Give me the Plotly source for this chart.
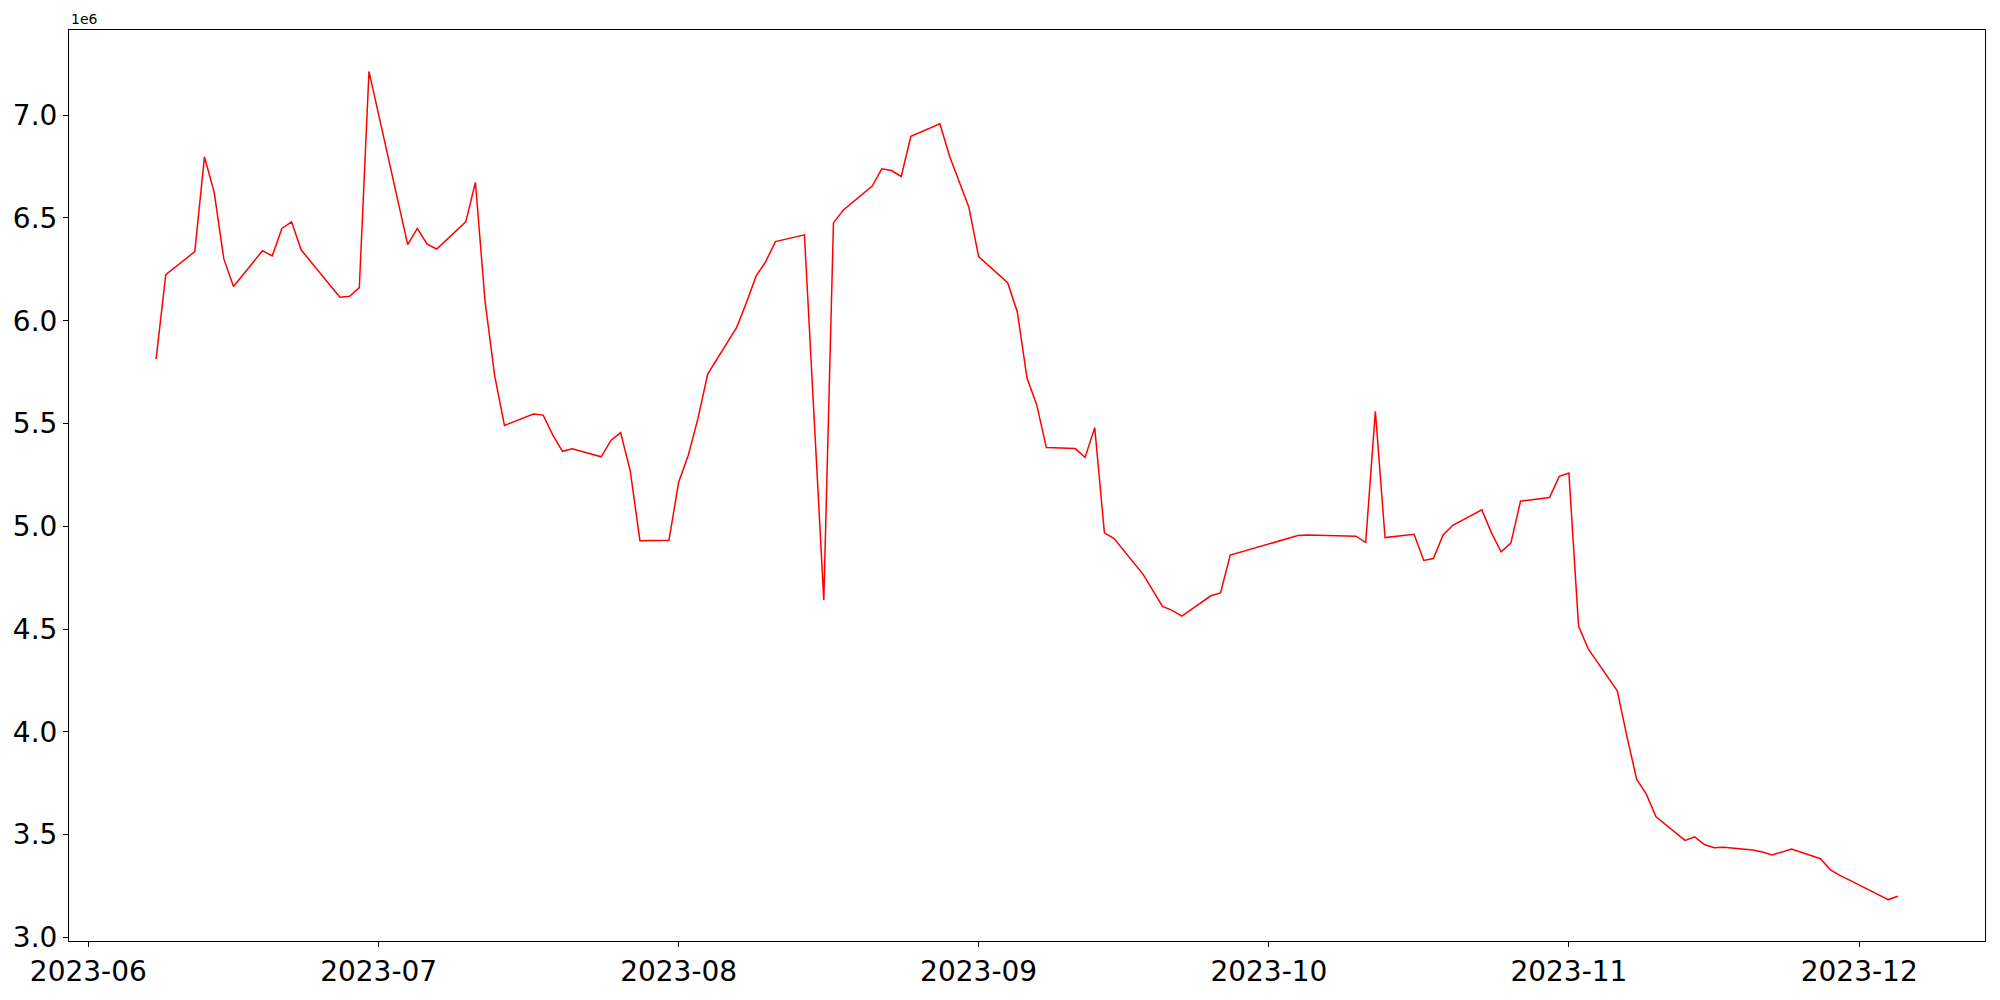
import plotly.graph_objects as go

dates = [
    "2023-06-08", "2023-06-09", "2023-06-12", "2023-06-13", "2023-06-14", "2023-06-15", "2023-06-16",
    "2023-06-19", "2023-06-20", "2023-06-21", "2023-06-22", "2023-06-23",
    "2023-06-26", "2023-06-27", "2023-06-28", "2023-06-29", "2023-06-30",
    "2023-07-04", "2023-07-05", "2023-07-06", "2023-07-07",
    "2023-07-10", "2023-07-11", "2023-07-12", "2023-07-13", "2023-07-14",
    "2023-07-17", "2023-07-18", "2023-07-19", "2023-07-20", "2023-07-21",
    "2023-07-24", "2023-07-25", "2023-07-26", "2023-07-27", "2023-07-28",
    "2023-07-31", "2023-08-01", "2023-08-02", "2023-08-03", "2023-08-04",
    "2023-08-07", "2023-08-08", "2023-08-09", "2023-08-10", "2023-08-11",
    "2023-08-14", "2023-08-16", "2023-08-17", "2023-08-18",
    "2023-08-21", "2023-08-22", "2023-08-23", "2023-08-24", "2023-08-25",
    "2023-08-28", "2023-08-29", "2023-08-30", "2023-08-31", "2023-09-01",
    "2023-09-04", "2023-09-05", "2023-09-06", "2023-09-07", "2023-09-08",
    "2023-09-11", "2023-09-12", "2023-09-13", "2023-09-14", "2023-09-15",
    "2023-09-18", "2023-09-20", "2023-09-21", "2023-09-22",
    "2023-09-25", "2023-09-26", "2023-09-27",
    "2023-10-04", "2023-10-05", "2023-10-10", "2023-10-11", "2023-10-12", "2023-10-13",
    "2023-10-16", "2023-10-17", "2023-10-18", "2023-10-19", "2023-10-20",
    "2023-10-23", "2023-10-24", "2023-10-25", "2023-10-26", "2023-10-27",
    "2023-10-30", "2023-10-31", "2023-11-01", "2023-11-02", "2023-11-03",
    "2023-11-06", "2023-11-07", "2023-11-08", "2023-11-09", "2023-11-10",
    "2023-11-13", "2023-11-14", "2023-11-15", "2023-11-16", "2023-11-17",
    "2023-11-20", "2023-11-21", "2023-11-22", "2023-11-24",
    "2023-11-27", "2023-11-28", "2023-11-29", "2023-11-30", "2023-12-01",
    "2023-12-04", "2023-12-05",
]

values = [
    5813000, 6224000, 6336000, 6797000, 6626000, 6301000, 6167000,
    6341000, 6315000, 6449000, 6481000, 6344000,
    6172000, 6114000, 6119000, 6161000, 7213000,
    6370000, 6449000, 6373000, 6349000,
    6481000, 6673000, 6092000, 5729000, 5491000,
    5546000, 5541000, 5444000, 5365000, 5377000,
    5338000, 5418000, 5456000, 5270000, 4930000,
    4932000, 5214000, 5346000, 5525000, 5741000,
    5968000, 6088000, 6217000, 6288000, 6385000,
    6418000, 4641000, 6476000, 6538000,
    6655000, 6739000, 6731000, 6702000, 6897000,
    6958000, 6800000, 6679000, 6551000, 6312000,
    6185000, 6043000, 5721000, 5592000, 5383000,
    5378000, 5335000, 5480000, 4968000, 4940000,
    4766000, 4610000, 4591000, 4563000,
    4662000, 4676000, 4860000,
    4955000, 4958000, 4952000, 4921000, 5560000, 4945000,
    4961000, 4834000, 4843000, 4958000, 5005000,
    5080000, 4968000, 4876000, 4918000, 5122000,
    5140000, 5243000, 5259000, 4514000, 4404000,
    4200000, 3977000, 3770000, 3697000, 3587000,
    3472000, 3489000, 3452000, 3436000, 3438000,
    3425000, 3415000, 3401000, 3430000,
    3383000, 3330000, 3302000, 3279000, 3255000,
    3184000, 3200000,
]

y_tick_vals = [3.0e6, 3.5e6, 4.0e6, 4.5e6, 5.0e6, 5.5e6, 6.0e6, 6.5e6, 7.0e6]
y_tick_text = ["3.0", "3.5", "4.0", "4.5", "5.0", "5.5", "6.0", "6.5", "7.0"]
offset_label = "1e6"

fig = go.Figure()
fig.add_trace(go.Scatter(
    x=dates, y=values, mode="lines",
    line=dict(color="red", width=1.5),
    showlegend=False,
))

font_family = "DejaVu Sans"

fig.update_layout(
    width=2000, height=1000, autosize=False,
    margin=dict(l=69, r=15, t=30, b=53, pad=0),
    paper_bgcolor="white", plot_bgcolor="white",
    font=dict(family=font_family, color="black", size=28),
)

fig.update_xaxes(
    type="date",
    range=["2023-05-30", "2023-12-14"],
    tickformat="%Y-%m", dtick="M1", tick0="2023-06-01",
    ticks="outside", ticklen=5, tickwidth=1, tickcolor="black",
    showline=True, linecolor="black", linewidth=1, mirror=True,
    showgrid=False, zeroline=False,
    tickfont=dict(family=font_family, size=28, color="black"),
)

fig.update_yaxes(
    range=[2.9825e6, 7.4145e6],
    tickvals=y_tick_vals, ticktext=y_tick_text,
    ticks="outside", ticklen=5, tickwidth=1, tickcolor="black",
    showline=True, linecolor="black", linewidth=1, mirror=True,
    showgrid=False, zeroline=False,
    tickfont=dict(family=font_family, size=28, color="black"),
)

fig.add_annotation(
    text=offset_label, xref="paper", yref="paper", x=0, y=1,
    xanchor="left", yanchor="bottom", yshift=1, showarrow=False,
    font=dict(family=font_family, size=14, color="black"),
)

fig.write_html(
    "out.html",
    config={"displayModeBar": False},
    post_script="document.body.style.margin='0px'; document.body.style.overflow='hidden';",
)
